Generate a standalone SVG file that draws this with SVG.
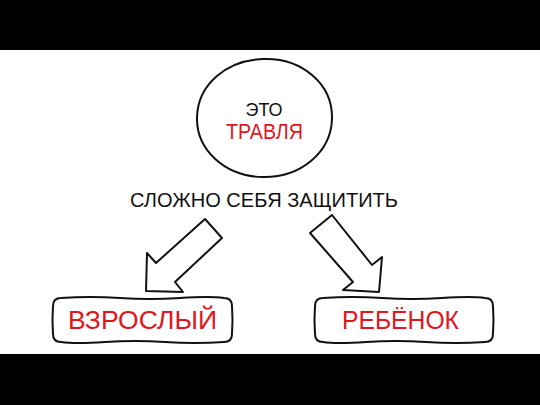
<svg xmlns="http://www.w3.org/2000/svg" width="540" height="405" viewBox="0 0 540 405">
<style>
.ln{fill:#fff;stroke:#111;stroke-width:2;stroke-linejoin:round;stroke-linecap:round}
.t{font-family:"Liberation Sans","DejaVu Sans",sans-serif;text-anchor:middle}
.blk{fill:#111}
.red{fill:#e0161e}
</style>
<rect x="0" y="0" width="540" height="405" fill="#fff"/>
<rect x="0" y="0" width="540" height="50" fill="#000"/>
<rect x="0" y="354" width="540" height="51" fill="#000"/>
<g id="center">
<path class="ln" d="M264,59 C302,58 333,84 332,119 C331,152 301,178 262,177 C225,176 196,150 197,117 C198,84 227,60 264,59 Z"/>
<text class="t blk" x="264" y="116" font-size="18">ЭТО</text>
<text class="t red" x="264.5" y="139" font-size="22" textLength="77" lengthAdjust="spacingAndGlyphs">ТРАВЛЯ</text>
</g>
<g id="caption">
<text class="t blk" x="264" y="207" font-size="19.5" textLength="268" lengthAdjust="spacingAndGlyphs">СЛОЖНО СЕБЯ ЗАЩИТИТЬ</text>
</g>
<g id="connectors">
<polygon class="ln" points="156,263 205,219 222,238 175,282 183,292 146,291 147,253"/>
<polygon class="ln" points="310,233 332,215 372,265 382,257 379,292 343,290 353,282"/>
</g>
<g id="adult">
<path class="ln" d="M61,298 Q90,296 120,298 T180,298 T224,298 Q232,298 232,306 Q233,320 232,334 Q232,342 224,342 Q195,344 165,342 T105,342 T61,342 Q53,342 53,334 Q52,320 53,306 Q53,298 61,298 Z"/>
<text class="t red" x="142.5" y="329" font-size="25" textLength="149" lengthAdjust="spacingAndGlyphs">ВЗРОСЛЫЙ</text>
</g>
<g id="child">
<path class="ln" d="M323,298 Q352,296 382,298 T442,298 T485,298 Q493,298 493,306 Q494,320 493,334 Q493,342 485,342 Q456,344 426,342 T366,342 T323,342 Q315,342 315,334 Q314,320 315,306 Q315,298 323,298 Z"/>
<text class="t red" x="400.5" y="329" font-size="25" textLength="117" lengthAdjust="spacingAndGlyphs">РЕБЁНОК</text>
</g>
</svg>
